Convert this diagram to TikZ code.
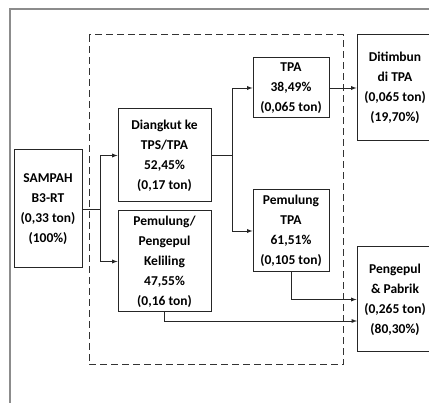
\documentclass[tikz,border=0pt]{standalone}
\usepackage{fontspec}
\setmainfont{Carlito}
\usetikzlibrary{arrows, positioning}

\begin{document}
\begin{tikzpicture}
				[x=1pt, y=-1pt,
				box/.style={rectangle, draw=black!85, line width=1pt, align=center, inner sep=0pt, font=\bfseries\fontsize{13.5}{20}\selectfont},
				flow/.style={draw=black!85, line width=0.9pt, -latex},
				frame/.style={draw=black!45, line width=1.5pt},
				group/.style={draw=black!80, line width=1pt, dash pattern=on 7pt off 4pt}]
				\clip (0,0) rectangle (429,403);
				\draw [frame] (10,403) -- (10,9) -- (431,9);
				\draw [group] (89,35) rectangle (343,365);
				\node [box, minimum width=68pt, minimum height=118pt]  (sampah) at (48,209) {SAMPAH\\B3-RT\\(0,33 ton)\\(100\%)};
				\node [box, minimum width=93pt, minimum height=93pt] (diangkut) at (164.5,155.5) {Diangkut ke\\TPS/TPA\\52,45\%\\(0,17 ton)};
				\node [box, minimum width=93pt, minimum height=101pt] (keliling) at (164.5,261.5) {Pemulung/\\Pengepul\\Keliling\\47,55\%\\(0,16 ton)};
				\node [box, minimum width=76pt, minimum height=60pt] (tpa) at (291,88) {TPA\\38,49\%\\(0,065 ton)};
				\node [box, minimum width=76pt, minimum height=82pt] (pemulung tpa) at (291,231) {Pemulung\\TPA\\61,51\%\\(0,105 ton)};
				\node [box, minimum width=76pt, minimum height=106pt] (ditimbun) at (395,88) {Ditimbun\\di TPA\\(0,065 ton)\\(19,70\%)};
				\node [box, minimum width=76pt, minimum height=105pt] (pabrik) at (395,299.5) {Pengepul\\\& Pabrik\\(0,265 ton)\\(80,30\%)};
				\coordinate (split sampah) at (100,209);
				\coordinate (split diangkut) at (232,155.5);
				\coordinate (pabrik in) at (357,321);
				\draw [draw=black!85, line width=0.9pt] (sampah.east) -- (split sampah);
				\draw [flow] (split sampah) |- (diangkut);
				\draw [flow] (split sampah) |- (keliling);
				\draw [draw=black!85, line width=0.9pt] (diangkut.east) -- (split diangkut);
				\draw [flow] (split diangkut) |- (tpa);
				\draw [flow] (split diangkut) |- (pemulung tpa);
				\draw [flow] (tpa) -- (ditimbun);
				\draw [flow] (pemulung tpa.south) |- (pabrik.west);
				\draw [flow] (keliling.south) |- (pabrik in);
			\end{tikzpicture}
\end{document}
